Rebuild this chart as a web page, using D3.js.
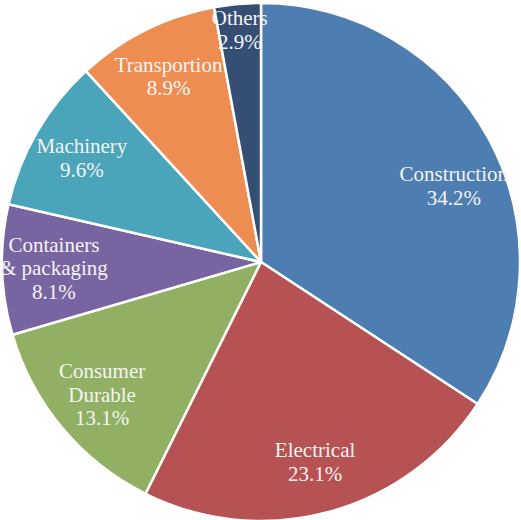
<!DOCTYPE html>
<html><head><meta charset="utf-8">
<script src="https://cdn.jsdelivr.net/npm/d3@7"></script>
<style>html,body{margin:0;padding:0;background:#fff;} svg text{font-family:"Liberation Serif","Times New Roman",Tinos,serif;}</style>
</head><body>
<svg id="chart" width="521" height="520" font-family="Liberation Serif"></svg>
<script>
const categories = ["Construction","Electrical","Consumer Durable","Containers & packaging","Machinery","Transportion","Others"];
const labelLines = [["Construction"],["Electrical"],["Consumer","Durable"],["Containers","& packaging"],["Machinery"],["Transportion"],["Others"]];
const values = [34.2,23.1,13.1,8.1,9.6,8.9,2.9];
const colors = ["#4E7DB1","#B65253","#92B064","#7864A0","#4BA5BA","#EE8D51","#344F73"];

const svg = d3.select("#chart");
const cx = 261, cy = 262, R = 259;
const g = svg.append("g").attr("transform",`translate(${cx},${cy})`);
const data = categories.map((c,i)=>({name:c, value:values[i], lines:labelLines[i], color:colors[i]}));
const pie = d3.pie().value(d=>d.value).sort(null);
const arcs = pie(data);
const arc = d3.arc().innerRadius(0).outerRadius(R);
g.selectAll("path").data(arcs).join("path")
  .attr("d",arc).attr("fill",d=>d.data.color)
  .attr("stroke","#fff").attr("stroke-width",2.5).attr("stroke-linejoin","round");

// best-fit style label placement: small slices pushed outward, largest slice label pulled down
const lh = 23.5;
const lineData = [];
arcs.forEach(d=>{
  const r = d.data.value < 5 ? R*0.9 : R*0.8;
  const a = (d.startAngle + d.endAngle)/2 + (d.data.value > 30 ? 0.12 : 0);
  const x = cx + Math.sin(a)*r, y = cy - Math.cos(a)*r;
  const lines = d.data.lines.concat([d.data.value.toFixed(1)+"%"]);
  const y0 = y - (lines.length-1)*lh/2;
  lines.forEach((s,k)=>lineData.push({x, y:y0+k*lh, s}));
});
svg.append("g").selectAll("text").data(lineData).join("text")
  .attr("x",d=>d.x).attr("y",d=>d.y + 7)
  .attr("text-anchor","middle").attr("fill","#F4F4F4")
  .attr("font-family","Liberation Serif").attr("font-size",21)
  .text(d=>d.s);
</script>
</body></html>
